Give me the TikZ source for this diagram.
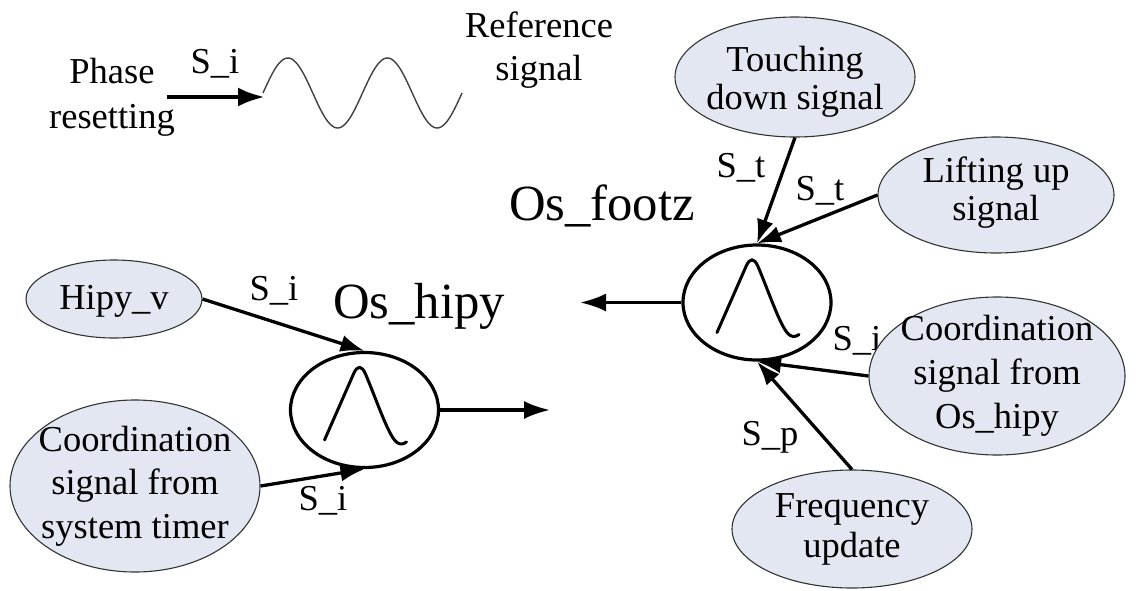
\documentclass[tikz,border=0pt]{standalone}
\usepackage{fontspec}
\setmainfont{Liberation Serif}
\usetikzlibrary{shapes.geometric,arrows.meta}
\definecolor{efill}{RGB}{226,231,241}
\begin{document}
\begin{tikzpicture}[x=1pt,y=-1pt,
  txt/.style={font=\fontsize{36.5}{42}\selectfont, inner sep=0pt, align=center, text=black},
  big/.style={font=\fontsize{50.7}{60}\selectfont, inner sep=0pt, text=black},
  sl/.style={font=\fontsize{36.5}{42}\selectfont, inner sep=0pt, anchor=base, text=black},
  inell/.style={draw=black!80, line width=1.1pt, fill=efill, ellipse, inner sep=0pt},
  osc/.style={draw, line width=3.2pt, ellipse, minimum width=148pt, minimum height=115pt, inner sep=0pt},
  inarrow/.style={line width=3.3pt, -{Latex[length=24pt,width=17pt]}},
  outarrow/.style={line width=3.2pt, -{Latex[length=26pt,width=18pt]}},
  gauss/.pic={\draw[line width=3pt, line join=round, line cap=round]
     (-40,30) -- (-11,-36) .. controls (-7,-45) and (-3,-45) .. (1,-36)
     .. controls (12,-10) and (22,20) .. (30,30) .. controls (34,35) and (38,35) .. (42,32);}
]
\useasboundingbox (0,0) rectangle (1141,590);

% top-left: phase resetting and reference signal
\node[txt, font=\fontsize{36.5}{45}\selectfont] (pr) at (112,97) {Phase\\resetting};
\coordinate (pa) at (167,97);
\coordinate (pb) at (265,97);
\draw[line width=4.5pt, -{Latex[length=27pt,width=19pt]}] (pa) -- (pb);
\node[sl] (sia) at (215,73) {S\_i};
\draw[line width=1.4pt, black!75] plot[domain=0:720, samples=121, smooth, variable=\t]
   ({263+0.27639*\t},{93-35*sin(\t)});
\node[txt, font=\fontsize{36.5}{43}\selectfont] (rs) at (539,50) {Reference\\signal};

% oscillators
\node[osc] (oh) at (364.5,410) {};
\pic at (oh) {gauss};
\node[osc] (of) at (757,302.5) {};
\pic at (of) {gauss};
\node[big, anchor=base] (ohl) at (419,318) {Os\_hipy};
\node[big, anchor=base] (ofl) at (602,220) {Os\_footz};

% labels drawn before the ellipse that partly covers one of them
\node[sl] (sir) at (857,350) {S\_i};

% input ellipses
\node[inell, minimum width=176pt, minimum height=78pt,
  label={[txt, yshift=-2pt]center:Hipy\_v}] (hv) at (114,299) {};
\node[inell, minimum width=250pt, minimum height=172pt,
  label={[txt, font=\fontsize{36.5}{43.5}\selectfont]center:{Coordination\\signal from\\system timer}}] (ct) at (135,486) {};
\node[inell, minimum width=240pt, minimum height=120pt,
  label={[txt, font=\fontsize{36.5}{38}\selectfont, yshift=-5pt]center:{Touching\\down signal}}] (td) at (795,77) {};
\node[inell, minimum width=236pt, minimum height=116pt,
  label={[txt, font=\fontsize{36.5}{38}\selectfont, yshift=2pt]center:{Lifting up\\signal}}] (lu) at (996,195) {};
\node[inell, minimum width=256pt, minimum height=158pt,
  label={[txt, font=\fontsize{36.5}{44}\selectfont]center:{Coordination\\signal from\\Os\_hipy}}] (co) at (997,376) {};
\node[inell, minimum width=240pt, minimum height=118pt,
  label={[txt, font=\fontsize{36.5}{40}\selectfont]center:{Frequency\\update}}] (fu) at (852,529) {};

% connector labels
\node[sl] (sih) at (274,300) {S\_i};
\node[sl] (sit) at (323,510) {S\_i};
\node[sl] (sta) at (741,177) {S\_t};
\node[sl] (stb) at (820,200) {S\_t};
\node[sl] (spf) at (770,445) {S\_p};

% connectors
\coordinate (hipout) at (550,410);
\coordinate (footout) at (580,302.5);
\draw[inarrow] (hv.east) -- (oh.north);
\draw[inarrow] (ct.east) -- (oh.south);
\draw[outarrow] (oh.east) -- (hipout);
\draw[outarrow] (of.west) -- (footout);
\draw[inarrow] (td.south) -- (of.north);
\draw[inarrow] (lu.west) -- (of.north);
\draw[inarrow] (co.west) -- (of.south);
\draw[inarrow] (fu.north) -- (of.south);
\end{tikzpicture}
\end{document}
